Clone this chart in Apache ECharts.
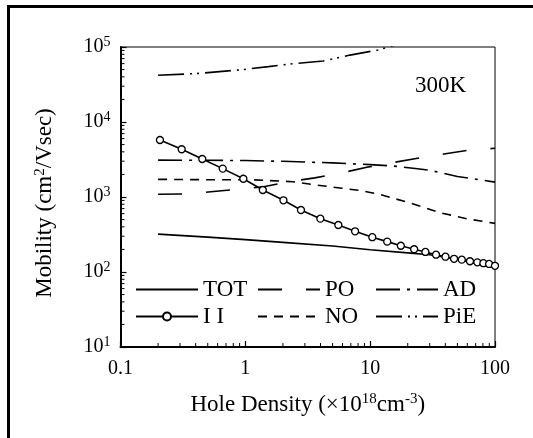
<!DOCTYPE html>
<html>
<head>
<meta charset="utf-8">
<script src="https://cdn.jsdelivr.net/npm/echarts@6/dist/echarts.min.js"></script>
<style>
  html, body { margin: 0; padding: 0; background: #fff; }
  #chart { width: 533px; height: 438px; }
</style>
</head>
<body>
<div id="chart"></div>
<script>
// ---- data (hole density in 1e18 cm^-3, mobility in cm2/Vsec) ----
const totX = [0.2, 0.5, 1, 2, 5, 10, 20, 30, 50, 100];
const totY = [320, 292, 270, 248, 222, 198, 180, 170, 148, 113];

const iiX = [0.207, 0.309, 0.452, 0.659, 0.964, 1.38, 2.02, 2.79, 3.99, 5.56, 7.57, 10.4, 13.7,
             17.6, 22.5, 27.7, 33.7, 40.1, 47, 54.2, 63, 72.2, 80.7, 89.7, 100];
const iiY = [5750, 4330, 3210, 2390, 1750, 1240, 904, 671, 514, 423, 349, 291, 254,
             224, 201, 185, 170, 160, 150, 146, 139, 134.5, 131, 128, 121];

const poX = [0.2, 0.33, 0.53, 0.85, 1.4, 2.4, 3.6, 5.7, 9.4, 15, 24, 39, 63, 100];
const poY = [1090, 1095, 1175, 1260, 1370, 1630, 1800, 2070, 2490, 2870, 3280, 3740, 4230, 4460];

const noX = [0.2, 0.5, 1.1, 2.4, 3.7, 5.7, 8.3, 10, 12, 21, 36, 60, 100];
const noY = [1720, 1700, 1700, 1600, 1445, 1320, 1220, 1150, 1080, 830, 620, 512, 445];

const adX = [0.2, 0.5, 1, 2, 5, 10, 15, 23, 30, 50, 100];
const adY = [3100, 3090, 3060, 2990, 2850, 2700, 2600, 2400, 2270, 1880, 1580];

const pieX = [0.2, 0.43, 0.96, 1.53, 2.43, 4.2, 6.9, 11.6, 16];
const pieY = [42000, 44500, 50000, 54700, 60000, 65000, 78000, 91200, 107000];

// axis ticks
const xTickValues = [0.1, 1, 10, 100];
const xTickLabels = ['0.1', '1', '10', '100'];
const yTickValues = [10, 100, 1000, 10000, 100000];
const yTickExp = ['1', '2', '3', '4', '5'];
const minorMultiples = [2, 3, 4, 5, 6, 7, 8, 9];
const xDecades = [0.1, 1, 10];
const yDecades = [10, 100, 1000, 10000];

const FONT = '"Liberation Serif", "DejaVu Serif", serif';

function zip(xs, ys) {
  return xs.map((x, i) => [x, ys[i]]);
}

function lookup(values, labels, v) {
  for (let i = 0; i < values.length; i++) {
    if (Math.abs(Math.log10(v) - Math.log10(values[i])) < 1e-6) return labels[i];
  }
  return '';
}

const minorX = [];
xDecades.forEach(d => minorMultiples.forEach(m => minorX.push([d * m, 10])));
const minorY = [];
yDecades.forEach(d => minorMultiples.forEach(m => minorY.push([0.1, d * m])));

function lineSeries(name, data, dash, extra) {
  return Object.assign({
    name: name,
    type: 'line',
    data: data,
    symbol: 'none',
    smooth: false,
    clip: true,
    lineStyle: { color: '#000', width: 1.6, type: dash },
    itemStyle: { color: '#000' },
    emphasis: { disabled: true },
    z: 3
  }, extra || {});
}

const chart = echarts.init(document.getElementById('chart'));

const legendText = { fontFamily: FONT, fontSize: 23, color: '#000', lineHeight: 22 };
// plain lines in the legend: hide the marker dot
function noDot(name) {
  return { name: name, itemStyle: { opacity: 0 } };
}
function legendAt(left, names) {
  return {
    orient: 'vertical',
    left: left,
    top: 278,
    data: names,
    itemWidth: 62,
    itemHeight: 10,
    itemGap: 4,
    padding: 0,
    selectedMode: false,
    textStyle: legendText
  };
}

chart.setOption({
  animation: false,
  grid: {
    left: 120.5, right: 38, top: 47, bottom: 91,
    show: true, borderColor: '#000', borderWidth: 1, backgroundColor: 'transparent'
  },
  legend: [
    legendAt(135, [noDot('TOT'), 'I I']),
    legendAt(257, [noDot('PO'), noDot('NO')]),
    legendAt(375, [noDot('AD'), noDot('PiE')])
  ],
  xAxis: {
    type: 'log',
    logBase: 10,
    min: 0.1,
    max: 100,
    name: 'Hole Density (×10{s|18}cm{s|-3})',
    nameLocation: 'middle',
    nameGap: 45,
    nameTextStyle: {
      fontFamily: FONT, fontSize: 23, color: '#000',
      rich: { s: { fontFamily: FONT, fontSize: 15, color: '#000', padding: [0, 0, 10, 0] } }
    },
    axisLine: { lineStyle: { color: '#000', width: 2 } },
    axisTick: { inside: true, length: 6, lineStyle: { color: '#000', width: 1.2 } },
    splitLine: { show: false },
    axisLabel: {
      margin: 12,
      fontFamily: FONT, fontSize: 20, color: '#000',
      formatter: v => lookup(xTickValues, xTickLabels, v)
    }
  },
  yAxis: {
    type: 'log',
    logBase: 10,
    min: 10,
    max: 100000,
    name: 'Mobility (cm{s|2}/Vsec)',
    nameLocation: 'middle',
    nameGap: 63,
    nameTextStyle: {
      fontFamily: FONT, fontSize: 23, color: '#000',
      padding: [0, 12, 0, 0],
      rich: { s: { fontFamily: FONT, fontSize: 15, color: '#000', padding: [0, 0, 10, 0] } }
    },
    axisLine: { lineStyle: { color: '#000', width: 2 } },
    axisTick: { inside: true, length: 6, lineStyle: { color: '#000', width: 1.2 } },
    splitLine: { show: false },
    axisLabel: {
      margin: 10,
      fontFamily: FONT, fontSize: 20, color: '#000',
      formatter: v => '{b|10}{s|' + lookup(yTickValues, yTickExp, v) + '}',
      rich: {
        b: { fontFamily: FONT, fontSize: 20, color: '#000' },
        s: { fontFamily: FONT, fontSize: 14, color: '#000', padding: [0, 0, 10, 0] }
      }
    }
  },
  graphic: [
    {
      type: 'rect',
      shape: { x: 8.5, y: 6.5, width: 700, height: 700 },
      style: { fill: 'none', stroke: '#000', lineWidth: 3 },
      silent: true
    },
    {
      type: 'text',
      left: 415, top: 74,
      style: { text: '300K', fontFamily: FONT, fontSize: 23, fill: '#000' },
      silent: true
    }
  ],
  series: [
    lineSeries('TOT', zip(totX, totY), 'solid'),
    lineSeries('PO', zip(poX, poY), [24, 24]),
    lineSeries('AD', zip(adX, adY), [24, 7, 3, 7]),
    lineSeries('I I', zip(iiX, iiY), 'solid', {
      symbol: 'circle',
      symbolSize: 7,
      showSymbol: true,
      itemStyle: { color: '#fff', borderColor: '#000', borderWidth: 1.3 },
      z: 4
    }),
    lineSeries('NO', zip(noX, noY), [9, 7]),
    lineSeries('PiE', zip(pieX, pieY), [26, 6, 2, 5, 2, 6]),
    {
      type: 'custom',
      data: minorX,
      silent: true,
      clip: false,
      renderItem: (params, api) => {
        const p = api.coord([api.value(0), api.value(1)]);
        return { type: 'line', shape: { x1: p[0], y1: p[1], x2: p[0], y2: p[1] - 4 },
                 style: { stroke: '#000', lineWidth: 1 } };
      }
    },
    {
      type: 'custom',
      data: minorY,
      silent: true,
      clip: false,
      renderItem: (params, api) => {
        const p = api.coord([api.value(0), api.value(1)]);
        return { type: 'line', shape: { x1: p[0], y1: p[1], x2: p[0] + 4, y2: p[1] },
                 style: { stroke: '#000', lineWidth: 1 } };
      }
    }
  ]
});
</script>
</body>
</html>
